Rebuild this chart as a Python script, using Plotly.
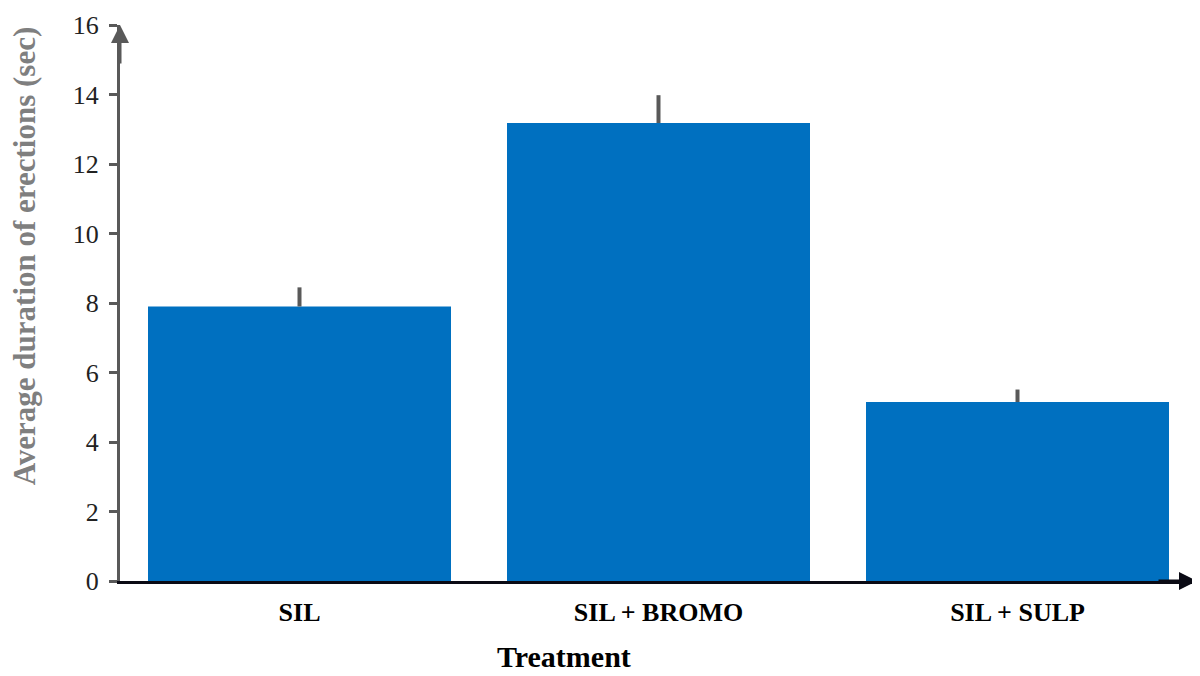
import plotly.graph_objects as go

# Treatment groups and mean erection durations (sec) with upper error
treatments = ["SIL", "SIL + BROMO", "SIL + SULP"]
mean_duration = [7.9, 13.18, 5.15]
error_upper = [0.55, 0.8, 0.36]

bar_color = "#0070C0"
axis_grey = "#595959"
serif = "Liberation Serif"

fig = go.Figure()

fig.add_trace(go.Bar(
    x=treatments,
    y=mean_duration,
    marker=dict(color=bar_color, line=dict(width=0)),
    error_y=dict(
        type="data",
        symmetric=False,
        array=error_upper,
        arrayminus=[0] * len(error_upper),
        color=axis_grey,
        thickness=4,
        width=0,
    ),
    showlegend=False,
))

# page body adds 8px, so the figure is a bit smaller than the window
fig.update_layout(
    width=1192,
    height=668,
    margin=dict(l=112, r=3, t=6, b=95),
    plot_bgcolor="white",
    paper_bgcolor="white",
    bargap=0.156,
    xaxis=dict(
        showgrid=False,
        showline=True,
        linecolor="#0a0a14",
        linewidth=3,
        ticks="",
        tickfont=dict(family=serif, size=26, color="black", weight="bold"),
        ticklabelstandoff=6,
    ),
    yaxis=dict(
        range=[0, 16],
        dtick=2,
        showgrid=False,
        zeroline=False,
        showline=True,
        linecolor=axis_grey,
        linewidth=3,
        ticks="outside",
        ticklen=8,
        tickwidth=3,
        tickcolor=axis_grey,
        tickfont=dict(family=serif, size=26, color="#222222"),
        ticklabelstandoff=5,
        ticklabeloverflow="allow",
    ),
    yaxis2=dict(
        overlaying="y",
        side="left",
        range=[0, 16],
        dtick=2,
        showgrid=False,
        zeroline=False,
        showline=False,
        ticks="inside",
        ticklen=7,
        tickwidth=3,
        tickcolor=axis_grey,
        showticklabels=False,
    ),
)

# axis arrows
fig.add_annotation(
    xref="paper", yref="paper", x=0, y=1, ax=0, ay=40,
    text="", showarrow=True, arrowhead=2, arrowsize=1.2,
    arrowwidth=3, arrowcolor=axis_grey,
)
fig.add_annotation(
    xref="paper", yref="paper", x=1, y=0, ax=-40, ay=0,
    text="", showarrow=True, arrowhead=2, arrowsize=1.2,
    arrowwidth=3, arrowcolor="#0a0a14",
)

# axis titles
fig.add_annotation(
    xref="paper", yref="paper", x=0, y=0.584, xshift=-96,
    text="<b>Average duration of erections (sec)</b>",
    textangle=-90, showarrow=False, xanchor="center", yanchor="middle",
    font=dict(family=serif, size=31, color="#7f7f7f"),
)
fig.add_annotation(
    xref="paper", yref="paper", x=0.412, y=-0.136,
    text="<b>Treatment</b>",
    showarrow=False, xanchor="center", yanchor="middle",
    font=dict(family=serif, size=30, color="black"),
)

fig.write_html("out.html")
